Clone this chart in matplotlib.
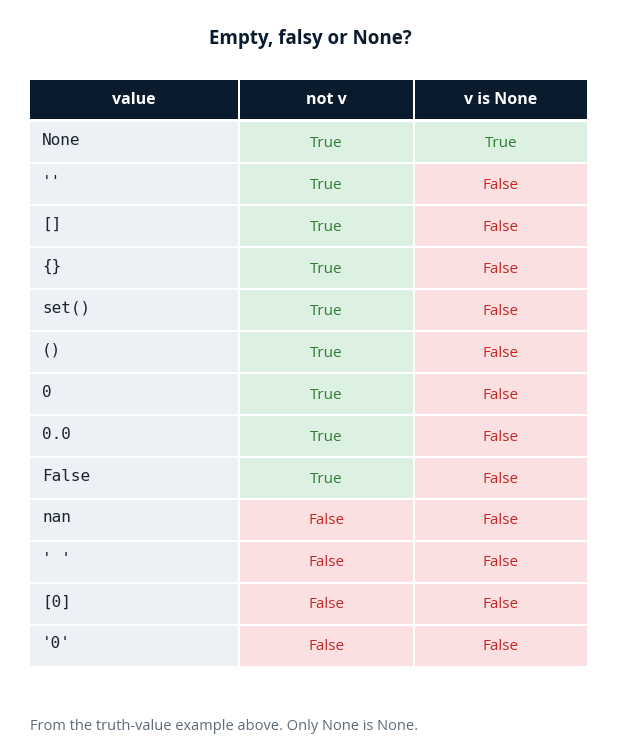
import matplotlib
matplotlib.use("Agg")
import matplotlib.pyplot as plt
from matplotlib.patches import Rectangle

title = "Empty, falsy or None?"
headers = ["value", "not v", "v is None"]
values = ["None", "''", "[]", "{}", "set()", "()", "0", "0.0", "False", "nan", "' '", "[0]", "'0'"]
not_v = [True, True, True, True, True, True, True, True, True, False, False, False, False]
is_none = [True, False, False, False, False, False, False, False, False, False, False, False, False]
footer = "From the truth-value example above. Only None is None."

W, H = 620, 748
fig = plt.figure(figsize=(W/100, H/100), dpi=100)
ax = fig.add_axes([0, 0, 1, 1])
ax.set_xlim(0, W); ax.set_ylim(H, 0); ax.axis("off")

cols = [(30, 238), (240, 413), (415, 587)]
hdr_top, hdr_bot = 80, 119
row0, pitch, rh = 122, 42, 40
navy = "#0b1b2e"
base = ["DejaVu Sans"]
sans = ["Open Sans", "DejaVu Sans"]

ax.text(W/2, 39, title, ha="center", va="center", fontsize=13.5, fontweight="bold",
        color=navy, family=sans)
for (x0, x1), h in zip(cols, headers):
    ax.add_patch(Rectangle((x0, hdr_top), x1-x0, hdr_bot-hdr_top, color=navy, lw=0))
    ax.text((x0+x1)/2, (hdr_top+hdr_bot)/2, h, ha="center", va="center", color="white",
            fontsize=11.5, fontweight="bold", family=sans)

gbg, gtx = "#dcf1e2", "#2e7d32"
rbg, rtx = "#fae0e0", "#c62828"
for i, v in enumerate(values):
    y = row0 + i*pitch
    x0, x1 = cols[0]
    ax.add_patch(Rectangle((x0, y), x1-x0, rh, color="#edf0f5", lw=0))
    ax.text(42, y+rh/2-2, v, ha="left", va="center", fontsize=11.5, color="#1a2433",
            family=["DejaVu Sans Mono"])
    for (cx0, cx1), b in zip(cols[1:], [not_v[i], is_none[i]]):
        ax.add_patch(Rectangle((cx0, y), cx1-cx0, rh, color=gbg if b else rbg, lw=0))
        ax.text((cx0+cx1)/2, y+rh/2+1, str(b), ha="center", va="center", fontsize=11,
                color=gtx if b else rtx, family=sans)

ax.text(30, 727, footer, ha="left", va="center", fontsize=10.5, color="#5f6b7a", family=sans)
fig.savefig("out.png", dpi=100)
